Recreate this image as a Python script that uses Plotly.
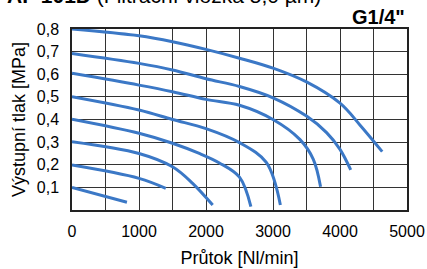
import plotly.graph_objects as go

x_08 = [0, 1000, 1500, 2000, 2500, 3000, 3500, 4000, 4300, 4630]
y_08 = [0.80, 0.770, 0.744, 0.710, 0.671, 0.627, 0.566, 0.472, 0.375, 0.258]
x_07 = [0, 1000, 1500, 2000, 2500, 3000, 3500, 3800, 4000, 4160]
y_07 = [0.692, 0.648, 0.619, 0.580, 0.546, 0.496, 0.415, 0.342, 0.268, 0.177]
x_06 = [0, 1000, 1500, 2000, 2500, 3000, 3400, 3600, 3710]
y_06 = [0.604, 0.552, 0.523, 0.489, 0.463, 0.400, 0.312, 0.225, 0.103]
x_05 = [0, 1000, 1500, 2000, 2500, 2900, 3110]
y_05 = [0.501, 0.442, 0.400, 0.360, 0.298, 0.210, 0.022]
x_04 = [0, 1000, 1500, 1900, 2200, 2500, 2670]
y_04 = [0.401, 0.339, 0.295, 0.250, 0.208, 0.145, 0.015]
x_03 = [0, 1000, 1500, 1800, 2100]
y_03 = [0.302, 0.250, 0.191, 0.118, 0.022]
x_02 = [0, 1000, 1400]
y_02 = [0.199, 0.140, 0.096]
x_01 = [0, 820]
y_01 = [0.100, 0.034]

series = [(x_08, y_08), (x_07, y_07), (x_06, y_06), (x_05, y_05),
          (x_04, y_04), (x_03, y_03), (x_02, y_02), (x_01, y_01)]

x_ticks = [0, 1000, 2000, 3000, 4000, 5000]
y_ticks = [0.1, 0.2, 0.3, 0.4, 0.5, 0.6, 0.7, 0.8]
y_tick_labels = ["0,1", "0,2", "0,3", "0,4", "0,5", "0,6", "0,7", "0,8"]

fig = go.Figure()
for xs, ys in series:
    fig.add_trace(go.Scatter(x=xs, y=ys, mode="lines",
                             line=dict(color="#3b78c6", width=3, shape="spline", smoothing=1.0),
                             showlegend=False, hoverinfo="skip"))

FONT = "Liberation Sans, Arial, sans-serif"
fig.update_layout(
    width=427, height=269,
    margin=dict(l=72, r=20, t=29, b=59),
    paper_bgcolor="white", plot_bgcolor="white",
    font=dict(family=FONT, size=16, color="#000"),
    xaxis=dict(range=[0, 5000], tickvals=x_ticks, ticktext=[str(v) for v in x_ticks],
               showgrid=True, gridcolor="#333", gridwidth=1,
               showline=True, linecolor="#222", linewidth=1.5, mirror=True,
               ticks="", zeroline=False, automargin=False,
               ticklabelstandoff=6,
               title=dict(text="Průtok [Nl/min]", font=dict(size=18), standoff=12),
               tickfont=dict(size=16)),
    yaxis=dict(range=[0, 0.8], tickvals=y_ticks, ticktext=y_tick_labels,
               showgrid=True, gridcolor="#333", gridwidth=1,
               showline=True, linecolor="#222", linewidth=1.5, mirror=True,
               ticks="", zeroline=False, automargin=False,
               ticklabelstandoff=8,
               title=dict(text="Výstupní tlak [MPa]", font=dict(size=18), standoff=6),
               tickfont=dict(size=16)),
)
# vertical grid every 500 between labelled ticks
for v in range(500, 5000, 1000):
    fig.add_shape(type="line", x0=v, x1=v, y0=0, y1=0.8, xref="x", yref="y",
                  line=dict(color="#333", width=1), layer="below")

fig.add_annotation(text="<b>G1/4\"</b>", xref="paper", yref="paper", x=1.0, y=1.0,
                   xanchor="right", yanchor="bottom", yshift=-1, showarrow=False,
                   font=dict(size=20, family=FONT))
fig.add_annotation(text="<b>AF 101D</b> (Filtrační vložka 5,0 µm)", xref="paper", yref="paper",
                   x=0.749, y=1.184, xanchor="right", yanchor="middle", showarrow=False,
                   font=dict(size=21, family=FONT))

fig.write_html("out.html", config={"displayModeBar": False},
               post_script="document.body.style.margin='0';document.body.style.overflow='hidden';")
